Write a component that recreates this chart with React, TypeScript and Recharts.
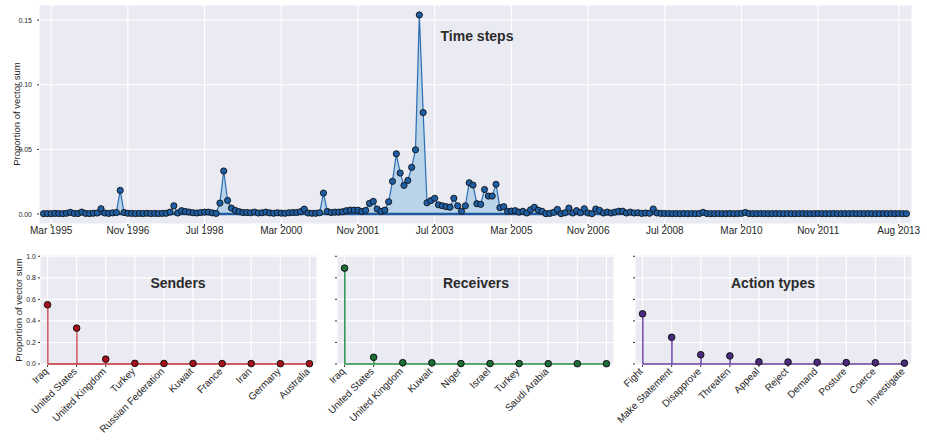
import React from "react";
import {
  ComposedChart,
  Area,
  Line,
  Bar,
  XAxis,
  YAxis,
  CartesianGrid,
  ReferenceLine,
} from "recharts";

const FONT = '"Liberation Sans", Arial, Helvetica, sans-serif';
const BG = "#eaeaf2";
const TICK_TXT = "#262626";

// monthly proportion of vector sum, Jan 1995 .. Oct 2013
const stepValues = [
  0.0003, 0.0004, 0.0003, 0.0005, 0.0004, 0.0003, 0.0006, 0.0013, 0.0005, 0.0004,
  0.0015, 0.0005, 0.0004, 0.0006, 0.0008, 0.0041, 0.0008, 0.0005, 0.0009, 0.0012,
  0.0183, 0.0012, 0.0006, 0.0005, 0.0004, 0.0005, 0.0004, 0.0006, 0.0004, 0.0005,
  0.0004, 0.0005, 0.0006, 0.0015, 0.0064, 0.0008, 0.0026, 0.002, 0.0015, 0.001,
  0.0008, 0.0012, 0.0015, 0.0015, 0.0009, 0.0005, 0.0085, 0.0333, 0.0105, 0.0046,
  0.0028, 0.0018, 0.0012, 0.0012, 0.001, 0.0015, 0.0008, 0.001, 0.0015, 0.0009,
  0.0006, 0.001, 0.0007, 0.0006, 0.001, 0.0012, 0.0012, 0.0018, 0.0038, 0.0008,
  0.0006, 0.0006, 0.001, 0.0162, 0.002, 0.0012, 0.0015, 0.0015, 0.0018, 0.0026,
  0.003, 0.003, 0.003, 0.002, 0.0028, 0.0082, 0.0098, 0.0039, 0.002, 0.003,
  0.0095, 0.0253, 0.0466, 0.0317, 0.0222, 0.026, 0.0361, 0.0497, 0.154, 0.0785,
  0.0087, 0.0104, 0.0122, 0.0071, 0.0064, 0.0057, 0.0053, 0.0122, 0.0064, 0.0021,
  0.0064, 0.0242, 0.0224, 0.008, 0.0075, 0.019, 0.0139, 0.0139, 0.023, 0.0049,
  0.0057, 0.0021, 0.0023, 0.0026, 0.0015, 0.0021, 0.0008, 0.0033, 0.0052, 0.003,
  0.0021, 0.0003, 0.0005, 0.0013, 0.0036, 0.0003, 0.001, 0.0046, 0.0008, 0.0026,
  0.001, 0.0041, 0.0008, 0.0003, 0.0039, 0.0028, 0.0008, 0.0015, 0.0008, 0.0015,
  0.0022, 0.0022, 0.0008, 0.0015, 0.0008, 0.001, 0.0005, 0.0008, 0.0006, 0.0039,
  0.0008, 0.0005, 0.0004, 0.0004, 0.0003, 0.0004, 0.0003, 0.0004, 0.0003, 0.0004,
  0.0003, 0.0004, 0.0013, 0.0004, 0.0003, 0.0003, 0.0004, 0.0003, 0.0003, 0.0004,
  0.0003, 0.0004, 0.0005, 0.0012, 0.0004, 0.0003, 0.0003, 0.0004, 0.0003, 0.0003,
  0.0003, 0.0004, 0.0003, 0.0003, 0.0004, 0.0003, 0.0003, 0.0003, 0.0004, 0.0003,
  0.0003, 0.0003, 0.0004, 0.0003, 0.0003, 0.0003, 0.0004, 0.0003, 0.0003, 0.0003,
  0.0003, 0.0004, 0.0003, 0.0003, 0.0003, 0.0004, 0.0003, 0.0003, 0.0003, 0.0004,
  0.0003, 0.0004, 0.0003, 0.0004, 0.0003, 0.0003,
];
const stepTicks = [2, 22, 42, 62, 82, 102, 122, 142, 162, 182, 202, 223];
const stepTickLabels = [
  "Mar 1995", "Nov 1996", "Jul 1998", "Mar 2000", "Nov 2001", "Jul 2003",
  "Mar 2005", "Nov 2006", "Jul 2008", "Mar 2010", "Nov 2011", "Aug 2013",
];
const stepYTicks = [0, 0.05, 0.1, 0.15];

const senderNames = [
  "Iraq", "United States", "United Kingdom", "Turkey", "Russian Federation",
  "Kuwait", "France", "Iran", "Germany", "Australia",
];
const senderValues = [0.55, 0.333, 0.045, 0.006, 0.005, 0.005, 0.004, 0.004, 0.003, 0.003];

// the last two receivers carry no label in the original
const receiverNames = [
  "Iraq", "United States", "United Kingdom", "Kuwait", "Niger", "Israel",
  "Turkey", "Saudi Arabia", "", "",
];
const receiverValues = [0.89, 0.062, 0.012, 0.011, 0.004, 0.004, 0.004, 0.003, 0.003, 0.003];

const actionNames = [
  "Fight", "Make Statement", "Disapprove", "Threaten", "Appeal", "Reject",
  "Demand", "Posture", "Coerce", "Investigate",
];
const actionValues = [0.466, 0.248, 0.086, 0.075, 0.02, 0.018, 0.016, 0.013, 0.012, 0.008];

const panelYTicks = [0, 0.2, 0.4, 0.6, 0.8, 1.0];

const stepRows = stepValues.map((v, i) => ({ i, v }));

function TimeSteps() {
  const last = stepRows.length - 1;
  return (
    <ComposedChart
      width={927}
      height={250}
      data={stepRows}
      margin={{ top: 5, right: 15, bottom: 6, left: 0 }}
    >
      <CartesianGrid fill={BG} fillOpacity={1} stroke="#ffffff" strokeWidth={1.1} />
      <XAxis
        type="number"
        dataKey="i"
        domain={[-1.17, 226.46]}
        ticks={stepTicks}
        interval={0}
        tickFormatter={(v: number) => stepTickLabels[stepTicks.indexOf(v)]}
        height={20}
        axisLine={false}
        tickSize={2}
        tickMargin={1}
        tickLine={{ stroke: "#333" }}
        tick={{ fontSize: 10, fill: TICK_TXT, fontFamily: FONT }}
      />
      <XAxis
        xAxisId="top"
        orientation="top"
        mirror
        type="number"
        dataKey="i"
        domain={[-1.17, 226.46]}
        ticks={stepTicks}
        interval={0}
        height={0}
        axisLine={false}
        tick={false}
        tickSize={2}
        tickLine={{ stroke: "#333" }}
      />
      <YAxis
        domain={[-0.0077, 0.1617]}
        ticks={stepYTicks}
        interval={0}
        width={39}
        axisLine={false}
        tickSize={2}
        tickMargin={5}
        tickLine={{ stroke: "#333" }}
        tickFormatter={(v: number) => v.toFixed(2)}
        tick={{ fontSize: 7, fill: TICK_TXT, fontFamily: FONT }}
      />
      <YAxis
        yAxisId="right"
        orientation="right"
        mirror
        domain={[-0.0077, 0.1617]}
        ticks={stepYTicks}
        interval={0}
        width={0}
        axisLine={false}
        tick={false}
        tickSize={2}
        tickLine={{ stroke: "#333" }}
      />
      <Area
        type="linear"
        dataKey="v"
        baseValue={0}
        stroke="none"
        fill="#b9d4e8"
        fillOpacity={1}
        isAnimationActive={false}
      />
      <ReferenceLine
        segment={[
          { x: 0, y: 0 },
          { x: last, y: 0 },
        ]}
        stroke="#1f5a9e"
        strokeWidth={2.6}
      />
      <Line
        type="linear"
        dataKey="v"
        stroke="#2a6db3"
        strokeWidth={1.2}
        dot={{ r: 3.1, fill: "#1d5ea5", stroke: "#111", strokeWidth: 0.9 }}
        activeDot={false}
        isAnimationActive={false}
      />
    </ComposedChart>
  );
}

interface PanelProps {
  names: string[];
  values: number[];
  left: number;
  stem: string;
  base: string;
  dot: string;
  showYLabels: boolean;
}

function StemPanel({ names, values, left, stem, base, dot, showYLabels }: PanelProps) {
  const rows = values.map((v, i) => ({ i, v }));
  const idx = rows.map((r) => r.i);
  const xDomain = [-0.26, 9.26];
  const yDomain = [-0.0093, 1.012];

  const renderTick = (p: any) => (
    <text
      x={0}
      y={0}
      transform={`translate(${p.x + 1},${p.y + 5}) rotate(-45)`}
      textAnchor="end"
      fontSize={10}
      fill={TICK_TXT}
      fontFamily={FONT}
    >
      {names[p.payload.value]}
    </text>
  );

  return (
    <div style={{ position: "absolute", left, top: 250 }}>
      <ComposedChart
        width={322}
        height={196}
        data={rows}
        margin={{ top: 5, right: 5, bottom: 0, left: 0 }}
      >
        <CartesianGrid fill={BG} fillOpacity={1} stroke="#ffffff" strokeWidth={1.1} />
        <XAxis
          type="number"
          dataKey="i"
          domain={xDomain}
          ticks={idx}
          interval={0}
          height={81}
          axisLine={false}
          tickSize={2}
          tickMargin={0}
          tickLine={{ stroke: "#333" }}
          tick={renderTick}
        />
        <XAxis
          xAxisId="top"
          orientation="top"
          mirror
          type="number"
          dataKey="i"
          domain={xDomain}
          ticks={idx}
          interval={0}
          height={0}
          axisLine={false}
          tick={false}
          tickSize={2}
          tickLine={{ stroke: "#333" }}
        />
        <YAxis
          domain={yDomain}
          ticks={panelYTicks}
          interval={0}
          width={40}
          axisLine={false}
          tickSize={2}
          tickMargin={2}
          tickLine={{ stroke: "#333" }}
          tickFormatter={(v: number) => (showYLabels ? v.toFixed(1) : "")}
          tick={{ fontSize: 7, fill: TICK_TXT, fontFamily: FONT }}
        />
        <YAxis
          yAxisId="right"
          orientation="right"
          mirror
          domain={yDomain}
          ticks={panelYTicks}
          interval={0}
          width={0}
          axisLine={false}
          tick={false}
          tickSize={2}
          tickLine={{ stroke: "#333" }}
        />
        <Bar dataKey="v" barSize={1.6} fill={stem} isAnimationActive={false} />
        <ReferenceLine
          segment={[
            { x: 0, y: 0 },
            { x: rows.length - 1, y: 0 },
          ]}
          stroke={base}
          strokeWidth={1.6}
        />
        <Line
          type="linear"
          dataKey="v"
          stroke="none"
          dot={{ r: 3.3, fill: dot, stroke: "#111", strokeWidth: 1 }}
          activeDot={false}
          isAnimationActive={false}
        />
      </ComposedChart>
    </div>
  );
}

const titleStyle = {
  fontFamily: FONT,
  fontSize: 14,
  fontWeight: 700,
  fill: "#2b2b2b",
};

export default function App() {
  return (
    <div
      style={{
        position: "absolute",
        left: 0,
        top: 0,
        width: 927,
        height: 446,
        background: "#ffffff",
        fontFamily: FONT,
      }}
    >
      <div style={{ position: "absolute", left: 0, top: 0 }}>
        <TimeSteps />
      </div>
      <StemPanel
        names={senderNames}
        values={senderValues}
        left={0}
        stem="#d4606a"
        base="#c0282f"
        dot="#a8101c"
        showYLabels
      />
      <StemPanel
        names={receiverNames}
        values={receiverValues}
        left={297}
        stem="#2e9a55"
        base="#238b45"
        dot="#1b6e36"
        showYLabels={false}
      />
      <StemPanel
        names={actionNames}
        values={actionValues}
        left={595}
        stem="#7a52b3"
        base="#6a3d9a"
        dot="#4b2a80"
        showYLabels={false}
      />
      <svg
        width={927}
        height={446}
        style={{ position: "absolute", left: 0, top: 0, pointerEvents: "none" }}
      >
        <text x={477} y={36} textAnchor="middle" dominantBaseline="central" {...titleStyle}>
          Time steps
        </text>
        <text x={178} y={283} textAnchor="middle" dominantBaseline="central" {...titleStyle}>
          Senders
        </text>
        <text x={476} y={283} textAnchor="middle" dominantBaseline="central" {...titleStyle}>
          Receivers
        </text>
        <text x={773} y={283} textAnchor="middle" dominantBaseline="central" {...titleStyle}>
          Action types
        </text>
        <text
          transform="translate(16,114) rotate(-90)"
          textAnchor="middle"
          dominantBaseline="central"
          fontFamily={FONT}
          fontSize={9.5}
          fill={TICK_TXT}
        >
          Proportion of vector sum
        </text>
        <text
          transform="translate(18.5,310) rotate(-90)"
          textAnchor="middle"
          dominantBaseline="central"
          fontFamily={FONT}
          fontSize={9.5}
          fill={TICK_TXT}
        >
          Proportion of vector sum
        </text>
      </svg>
    </div>
  );
}
